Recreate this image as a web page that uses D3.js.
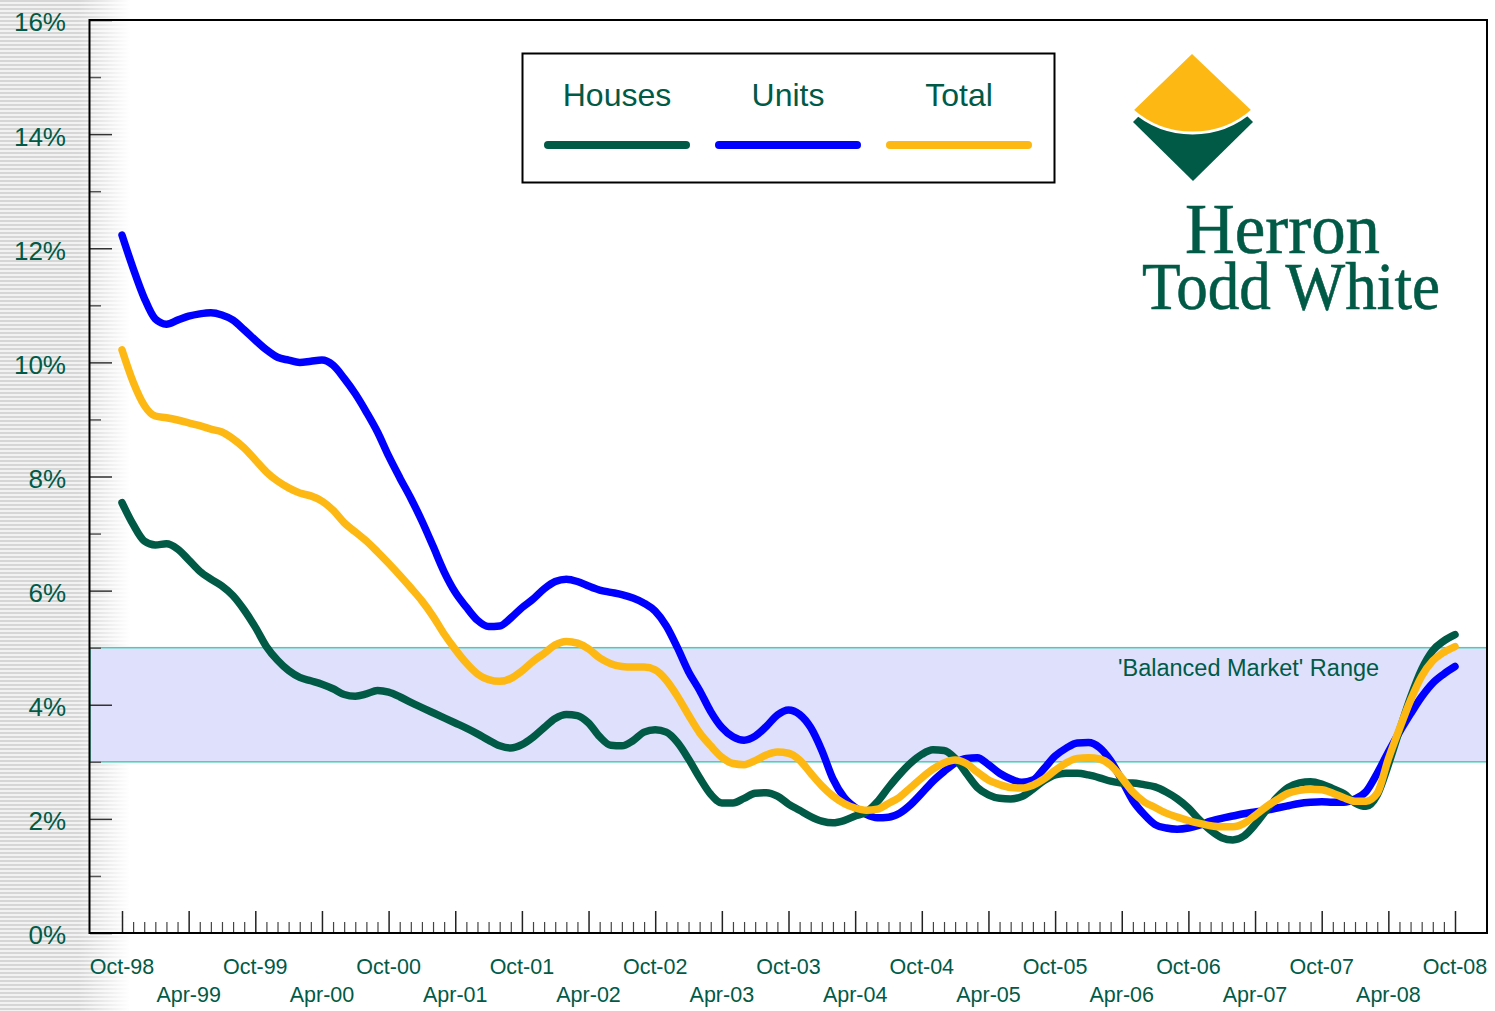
<!DOCTYPE html>
<html>
<head>
<meta charset="utf-8">
<script src="https://cdn.jsdelivr.net/npm/d3@7"></script>
<style>
  html, body { margin: 0; padding: 0; background: #fff; }
</style>
</head>
<body>
<div id="svg-div"></div>
<script>
// monthly vacancy rates, Oct-98 .. Oct-08 (121 months)
const houses = [
  7.54, 7.16, 6.87, 6.80, 6.82, 6.73, 6.54, 6.34, 6.20, 6.08, 5.91, 5.66,
  5.36, 5.02, 4.78, 4.60, 4.48, 4.42, 4.36, 4.28, 4.18, 4.15, 4.19, 4.25,
  4.22, 4.14, 4.04, 3.95, 3.86, 3.77, 3.68, 3.59, 3.49, 3.38, 3.28, 3.24,
  3.30, 3.43, 3.60, 3.76, 3.83, 3.81, 3.68, 3.44, 3.29, 3.28, 3.37, 3.52,
  3.56, 3.52, 3.34, 3.05, 2.72, 2.43, 2.28, 2.28, 2.36, 2.45, 2.46, 2.40,
  2.26, 2.15, 2.04, 1.96, 1.93, 1.97, 2.05, 2.12, 2.30, 2.55, 2.78, 2.98,
  3.13, 3.21, 3.20, 3.06, 2.80, 2.55, 2.42, 2.36, 2.35, 2.39, 2.52, 2.67,
  2.77, 2.80, 2.80, 2.77, 2.72, 2.66, 2.63, 2.63, 2.60, 2.56, 2.47, 2.35,
  2.19, 1.98, 1.80, 1.67, 1.63, 1.70, 1.90, 2.15, 2.38, 2.55, 2.63, 2.65,
  2.61, 2.53, 2.44, 2.28, 2.22, 2.42, 2.95, 3.55, 4.13, 4.62, 4.95, 5.12,
  5.23
];
const units = [
  12.23, 11.65, 11.13, 10.76, 10.67, 10.74, 10.81, 10.85, 10.87, 10.83, 10.74, 10.57,
  10.39, 10.22, 10.09, 10.04, 10.00, 10.02, 10.04, 9.95, 9.72, 9.45, 9.13, 8.78,
  8.36, 7.98, 7.62, 7.22, 6.78, 6.33, 5.97, 5.71, 5.48, 5.37, 5.38, 5.52,
  5.70, 5.85, 6.03, 6.16, 6.20, 6.16, 6.08, 6.01, 5.97, 5.93, 5.87, 5.78,
  5.64, 5.38, 5.00, 4.58, 4.25, 3.88, 3.60, 3.44, 3.38, 3.45, 3.62, 3.82,
  3.91, 3.83, 3.60, 3.20, 2.70, 2.38, 2.20, 2.08, 2.02, 2.03, 2.10, 2.25,
  2.45, 2.66, 2.83, 2.98, 3.06, 3.07, 2.95, 2.80, 2.70, 2.64, 2.68, 2.88,
  3.10, 3.24, 3.33, 3.34, 3.25, 3.02, 2.68, 2.32, 2.08, 1.90, 1.84, 1.82,
  1.84, 1.89, 1.96, 2.01, 2.05, 2.09, 2.12, 2.15, 2.19, 2.23, 2.27, 2.29,
  2.30, 2.29, 2.29, 2.35, 2.48, 2.80, 3.17, 3.52, 3.84, 4.14, 4.38, 4.54,
  4.67
];
const total = [
  10.22, 9.66, 9.25, 9.06, 9.03, 8.99, 8.94, 8.89, 8.83, 8.78, 8.66, 8.50,
  8.29, 8.08, 7.92, 7.80, 7.71, 7.66, 7.57, 7.41, 7.19, 7.03, 6.87, 6.68,
  6.48, 6.27, 6.05, 5.82, 5.55, 5.24, 4.97, 4.73, 4.54, 4.44, 4.41, 4.46,
  4.59, 4.76, 4.90, 5.05, 5.11, 5.08, 4.98, 4.82, 4.72, 4.67, 4.66, 4.66,
  4.61, 4.43, 4.15, 3.82, 3.51, 3.28, 3.08, 2.97, 2.95, 3.02, 3.12, 3.17,
  3.15, 3.03, 2.80, 2.58, 2.40, 2.27, 2.19, 2.15, 2.17, 2.27, 2.38, 2.55,
  2.72, 2.87, 2.98, 3.03, 2.97, 2.82, 2.68, 2.60, 2.55, 2.54, 2.59, 2.70,
  2.85, 2.98, 3.06, 3.07, 3.05, 2.94, 2.72, 2.47, 2.30, 2.20, 2.10, 2.03,
  1.97, 1.92, 1.88, 1.86, 1.86, 1.92, 2.06, 2.21, 2.34, 2.45, 2.50, 2.52,
  2.51, 2.45, 2.37, 2.31, 2.31, 2.45, 3.05, 3.58, 4.08, 4.50, 4.77, 4.92,
  5.02
];

// every 6 months, starting Oct-98
const tickLabels = ['Oct-98', 'Apr-99', 'Oct-99', 'Apr-00', 'Oct-00', 'Apr-01', 'Oct-01',
                    'Apr-02', 'Oct-02', 'Apr-03', 'Oct-03', 'Apr-04', 'Oct-04', 'Apr-05',
                    'Oct-05', 'Apr-06', 'Oct-06', 'Apr-07', 'Oct-07', 'Apr-08', 'Oct-08'];
const yTicks = [0, 2, 4, 6, 8, 10, 12, 14, 16];
const balancedRange = [3, 5];

const seriesNames = ['Houses', 'Units', 'Total'];
const seriesColours = ['#005a46', '#0000ff', '#fdb813'];
const textColour = '#005a46';
const sans = '"Liberation Sans", Arial, sans-serif';
const serif = '"Liberation Serif", "Times New Roman", serif';

const width = 1495;
const height = 1011;
const plotLeft = 90, plotRight = 1487, plotTop = 20, plotBottom = 933;

const xScale = d3.scaleLinear().domain([0, 120]).range([122, 1455]);
const yScale = d3.scaleLinear().domain([0, 16]).range([plotBottom, plotTop]);

const svg = d3.select('#svg-div')
              .append('svg')
                .attr('width', width)
                .attr('height', height)
                .style('font-family', sans);

const defs = svg.append('defs');

// striped strip on the left, fading out to white
const pat = defs.append('pattern')
                .attr('id', 'stripes')
                .attr('patternUnits', 'userSpaceOnUse')
                .attr('width', 8).attr('height', 4);
pat.append('rect').attr('width', 8).attr('height', 4).attr('fill', '#f2f2f2');
pat.append('rect').attr('y', 0).attr('width', 8).attr('height', 2).attr('fill', '#d6d6d6');

const fade = defs.append('linearGradient').attr('id', 'fade');
fade.append('stop').attr('offset', '0.6').attr('stop-color', '#fff').attr('stop-opacity', 0);
fade.append('stop').attr('offset', '1').attr('stop-color', '#fff').attr('stop-opacity', 1);

svg.append('rect').attr('width', width).attr('height', height).attr('fill', '#fff');
svg.append('rect').attr('width', 130).attr('height', height).attr('fill', 'url(#stripes)');
svg.append('rect').attr('width', 130).attr('height', height).attr('fill', 'url(#fade)');

// balanced market band
svg.append('rect')
   .attr('x', plotLeft)
   .attr('y', yScale(balancedRange[1]))
   .attr('width', plotRight - plotLeft)
   .attr('height', yScale(balancedRange[0]) - yScale(balancedRange[1]))
   .attr('fill', '#dfe0fb')
   .attr('stroke', '#45cfb4')
   .attr('stroke-width', 1.5);

svg.append('text')
   .attr('x', 1118)
   .attr('y', 676)
   .attr('font-size', 23.5)
   .attr('fill', textColour)
   .text("'Balanced Market' Range");

// y-axis ticks and labels
const yAxis = svg.append('g')
                 .attr('transform', `translate(${plotLeft}, 0)`)
                 .call(d3.axisLeft(yScale)
                         .tickValues(yTicks)
                         .tickSize(-22)
                         .tickPadding(24)
                         .tickFormat(d => d + '%'));
yAxis.select('.domain').remove();
yAxis.selectAll('line').attr('stroke', '#333').attr('stroke-width', 1.5);
yAxis.selectAll('text')
     .attr('font-size', 26)
     .attr('dy', '0.42em')
     .style('font-family', sans)
     .attr('fill', textColour);

const yMinor = svg.append('g')
                  .attr('transform', `translate(${plotLeft}, 0)`)
                  .call(d3.axisLeft(yScale)
                          .tickValues(d3.range(1, 16, 2))
                          .tickSize(-11)
                          .tickFormat(''));
yMinor.select('.domain').remove();
yMinor.selectAll('line').attr('stroke', '#555').attr('stroke-width', 1.5);

// x-axis ticks and labels
const majorX = tickLabels.map((d, i) => i * 6);
const xAxis = svg.append('g')
                 .attr('transform', `translate(0, ${plotBottom})`)
                 .call(d3.axisBottom(xScale)
                         .tickValues(majorX)
                         .tickSize(-22)
                         .tickFormat(''));
xAxis.select('.domain').remove();
xAxis.selectAll('line').attr('stroke', '#222').attr('stroke-width', 1.5);

const xMinor = svg.append('g')
                  .attr('transform', `translate(0, ${plotBottom})`)
                  .call(d3.axisBottom(xScale)
                          .tickValues(d3.range(0, 121).filter(m => m % 6 != 0))
                          .tickSize(-11)
                          .tickFormat(''));
xMinor.select('.domain').remove();
xMinor.selectAll('line').attr('stroke', '#444').attr('stroke-width', 1.2);

svg.append('g')
   .selectAll('text')
   .data(tickLabels)
   .enter()
     .append('text')
       .attr('x', (d, i) => xScale(i * 6))
       .attr('y', (d, i) => i % 2 == 0 ? 974 : 1002)
       .attr('text-anchor', 'middle')
       .attr('font-size', 21.5)
       .attr('fill', textColour)
       .text(d => d);

// plot frame
svg.append('rect')
   .attr('x', plotLeft - 0.5)
   .attr('y', plotTop)
   .attr('width', plotRight - plotLeft + 0.5)
   .attr('height', plotBottom - plotTop)
   .attr('fill', 'none')
   .attr('stroke', '#000')
   .attr('stroke-width', 2);

// the lines
const line = d3.line()
               .x((d, i) => xScale(i))
               .y(d => yScale(d))
               .curve(d3.curveMonotoneX);

const drawOrder = [[units, 1], [houses, 0], [total, 2]];
svg.append('g')
   .selectAll('path')
   .data(drawOrder)
   .enter()
     .append('path')
       .attr('d', d => line(d[0]))
       .attr('fill', 'none')
       .attr('stroke', d => seriesColours[d[1]])
       .attr('stroke-width', 7.5)
       .attr('stroke-linecap', 'round')
       .attr('stroke-linejoin', 'round');

// legend
const legend = svg.append('g');
legend.append('rect')
      .attr('x', 522.5).attr('y', 53.5)
      .attr('width', 532).attr('height', 129)
      .attr('fill', '#fff')
      .attr('stroke', '#000')
      .attr('stroke-width', 2);

const legendX = [617, 788, 959];
seriesNames.forEach((name, i) => {
    legend.append('text')
          .attr('x', legendX[i])
          .attr('y', 106)
          .attr('text-anchor', 'middle')
          .attr('font-size', 32)
          .attr('fill', textColour)
          .text(name);
    legend.append('line')
          .attr('x1', legendX[i] - 69).attr('x2', legendX[i] + 69)
          .attr('y1', 145).attr('y2', 145)
          .attr('stroke', seriesColours[i])
          .attr('stroke-width', 8)
          .attr('stroke-linecap', 'round');
});

// logo
const logo = svg.append('g');
logo.append('path')
    .attr('d', 'M1133,122 L1193,62 L1253,122 L1193,181 Z')
    .attr('fill', '#005a46');
logo.append('path')
    .attr('d', 'M1192,52 L1253,110 A91,91 0 0 1 1132,110 Z')
    .attr('fill', '#fdb813')
    .attr('stroke', '#fff')
    .attr('stroke-width', 3)
    .attr('stroke-linejoin', 'miter');

const logoText = logo.append('text')
                     .style('font-family', serif)
                     .attr('fill', '#005a46')
                     .attr('stroke', '#005a46')
                     .attr('stroke-width', 0.6);
logoText.append('tspan')
        .attr('x', 1185).attr('y', 253)
        .attr('font-size', 72)
        .attr('textLength', 195)
        .attr('lengthAdjust', 'spacingAndGlyphs')
        .text('Herron');
logoText.append('tspan')
        .attr('x', 1142).attr('y', 309)
        .attr('font-size', 68)
        .attr('textLength', 298)
        .attr('lengthAdjust', 'spacingAndGlyphs')
        .text('Todd White');
</script>
</body>
</html>
